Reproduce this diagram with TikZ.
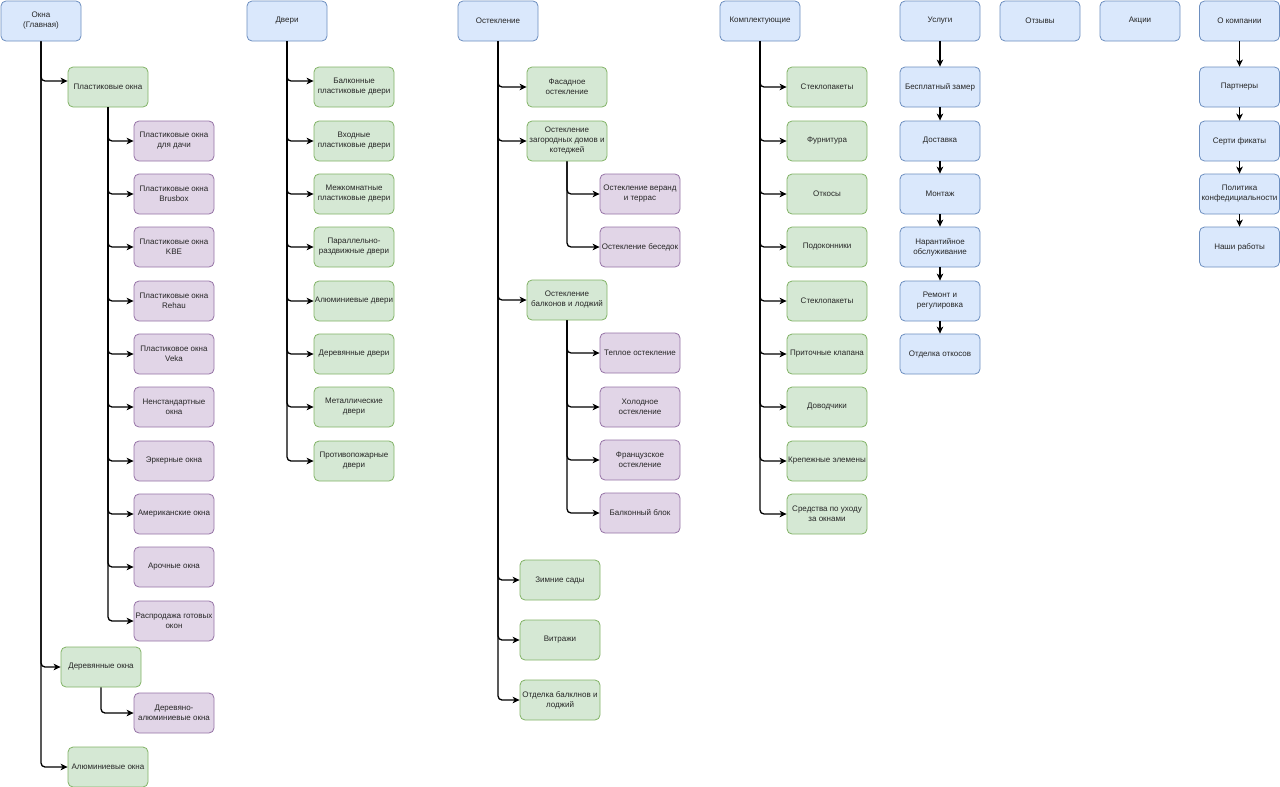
\documentclass[tikz,border=0pt]{standalone}
\usepackage{fontspec}
\setmainfont{Liberation Sans}
\usetikzlibrary{arrows.meta}
\definecolor{bluefill}{HTML}{DAE8FC}
\definecolor{blueline}{HTML}{6C8EBF}
\definecolor{greenfill}{HTML}{D5E8D4}
\definecolor{greenline}{HTML}{82B366}
\definecolor{purplefill}{HTML}{E1D5E7}
\definecolor{purpleline}{HTML}{9673A6}
\begin{document}
\begin{tikzpicture}[x=1pt, y=-1pt,
  item/.style={draw, line width=0.8pt, rounded corners=5pt, minimum width=80pt, minimum height=40pt,
    inner sep=0pt, align=center, text=black!85, font=\fontsize{8}{10}\selectfont},
  blueitem/.style={item, fill=bluefill, draw=blueline},
  greenitem/.style={item, fill=greenfill, draw=greenline},
  purpleitem/.style={item, fill=purplefill, draw=purpleline},
  link/.style={draw=black, line width=1.3pt, rounded corners=4pt, -{Stealth[length=7pt,width=6.5pt,inset=2pt]}}]
\useasboundingbox (0,0) rectangle (1280,787);
\node [blueitem] (okna) at (41,21) {Окна\\(Главная)};
\node [blueitem] (dveri) at (287,21) {Двери};
\node [blueitem] (osteklenie) at (498,21) {Остекление};
\node [blueitem] (komplekt) at (760,21) {Комплектующие};
\node [blueitem] (uslugi) at (940,21) {Услуги};
\node [blueitem] (otzyvy) at (1040,21) {Отзывы};
\node [blueitem] (akcii) at (1140,21) {Акции};
\node [blueitem] (okompanii) at (1239.5,21) {О компании};
% okna
\node [greenitem] (plast) at (108,87) {Пластиковые окна};
\node [purpleitem] (plastdacha) at (174,141) {Пластиковые окна\\для дачи};
\node [purpleitem] (plastbrusbox) at (174,194) {Пластиковые окна\\Brusbox};
\node [purpleitem] (plastkbe) at (174,247) {Пластиковые окна\\KBE};
\node [purpleitem] (plastrehau) at (174,301) {Пластиковые окна\\Rehau};
\node [purpleitem] (plastveka) at (174,354) {Пластиковое окна\\Veka};
\node [purpleitem] (nestand) at (174,407) {Ненстандартные\\окна};
\node [purpleitem] (erker) at (174,461) {Эркерные окна};
\node [purpleitem] (amerik) at (174,514) {Американские окна};
\node [purpleitem] (aroch) at (174,567) {Арочные окна};
\node [purpleitem] (rasprod) at (174,621) {Распродажа готовых\\окон};
\node [greenitem] (derev) at (101,667) {Деревянные окна};
\node [purpleitem] (deralu) at (174,713) {Деревяно-\\алюминиевые окна};
\node [greenitem] (alum) at (108,767) {Алюминиевые окна};
\draw [link] (okna.south) |- ([yshift=6pt]plast.west);
\draw [link] (okna.south) |- (derev.west);
\draw [link] (okna.south) |- (alum.west);
\draw [link] (plast.south) |- (plastdacha.west);
\draw [link] (plast.south) |- (plastbrusbox.west);
\draw [link] (plast.south) |- (plastkbe.west);
\draw [link] (plast.south) |- (plastrehau.west);
\draw [link] (plast.south) |- (plastveka.west);
\draw [link] (plast.south) |- (nestand.west);
\draw [link] (plast.south) |- (erker.west);
\draw [link] (plast.south) |- (amerik.west);
\draw [link] (plast.south) |- (aroch.west);
\draw [link] (plast.south) |- (rasprod.west);
\draw [link] (derev.south) |- (deralu.west);
% dveri
\node [greenitem] (balkdv) at (354,87) {Балконные\\пластиковые двери};
\node [greenitem] (vhoddv) at (354,141) {Входные\\пластиковые двери};
\node [greenitem] (mezhdv) at (354,194) {Межкомнатные\\пластиковые двери};
\node [greenitem] (paraldv) at (354,247) {Параллельно-\\раздвижные двери};
\node [greenitem] (alumdv) at (354,301) {Алюминиевые двери};
\node [greenitem] (derevdv) at (354,354) {Деревянные двери};
\node [greenitem] (metaldv) at (354,407) {Металлические\\двери};
\node [greenitem] (protivdv) at (354,461) {Противопожарные\\двери};
\draw [link] (dveri.south) |- ([yshift=6pt]balkdv.west);
\draw [link] (dveri.south) |- (vhoddv.west);
\draw [link] (dveri.south) |- (mezhdv.west);
\draw [link] (dveri.south) |- (paraldv.west);
\draw [link] (dveri.south) |- (alumdv.west);
\draw [link] (dveri.south) |- (derevdv.west);
\draw [link] (dveri.south) |- (metaldv.west);
\draw [link] (dveri.south) |- (protivdv.west);
% osteklenie
\node [greenitem] (fasad) at (567,87) {Фасадное\\остекление};
\node [greenitem] (zagor) at (567,141) {Остекление\\загородных домов и\\котеджей};
\node [purpleitem] (veranda) at (640,194) {Остекление веранд\\и террас};
\node [purpleitem] (besedka) at (640,247) {Остекление беседок};
\node [greenitem] (balkon) at (567,300) {Остекление\\балконов и лоджий};
\node [purpleitem] (teploe) at (640,353) {Теплое остекление};
\node [purpleitem] (holod) at (640,407) {Холодное\\остекление};
\node [purpleitem] (franc) at (640,460) {Французское\\остекление};
\node [purpleitem] (blok) at (640,513) {Балконный блок};
\node [greenitem] (zimnie) at (560,580) {Зимние сады};
\node [greenitem] (vitrazhi) at (560,640) {Витражи};
\node [greenitem] (otdelka) at (560,700) {Отделка балклнов и\\лоджий};
\draw [link] (osteklenie.south) |- (fasad.west);
\draw [link] (osteklenie.south) |- (zagor.west);
\draw [link] (osteklenie.south) |- (balkon.west);
\draw [link] (osteklenie.south) |- (zimnie.west);
\draw [link] (osteklenie.south) |- (vitrazhi.west);
\draw [link] (osteklenie.south) |- (otdelka.west);
\draw [link] (zagor.south) |- (veranda.west);
\draw [link] (zagor.south) |- (besedka.west);
\draw [link] (balkon.south) |- (teploe.west);
\draw [link] (balkon.south) |- (holod.west);
\draw [link] (balkon.south) |- (franc.west);
\draw [link] (balkon.south) |- (blok.west);
% komplektuyushchie
\node [greenitem] (steklo) at (827,87) {Стеклопакеты};
\node [greenitem] (furnit) at (827,141) {Фурнитура};
\node [greenitem] (otkosy) at (827,194) {Откосы};
\node [greenitem] (podok) at (827,247) {Подоконники};
\node [greenitem] (steklob) at (827,301) {Стеклопакеты};
\node [greenitem] (pritoch) at (827,354) {Приточные клапана};
\node [greenitem] (dovod) at (827,407) {Доводчики};
\node [greenitem] (krep) at (827,461) {Крепежные элемены};
\node [greenitem] (sredstva) at (827,514) {Средства по уходу\\за окнами};
\draw [link] (komplekt.south) |- (steklo.west);
\draw [link] (komplekt.south) |- (furnit.west);
\draw [link] (komplekt.south) |- (otkosy.west);
\draw [link] (komplekt.south) |- (podok.west);
\draw [link] (komplekt.south) |- (steklob.west);
\draw [link] (komplekt.south) |- (pritoch.west);
\draw [link] (komplekt.south) |- (dovod.west);
\draw [link] (komplekt.south) |- (krep.west);
\draw [link] (komplekt.south) |- (sredstva.west);
% uslugi
\node [blueitem] (zamer) at (940,87) {Бесплатный замер};
\node [blueitem] (dostavka) at (940,141) {Доставка};
\node [blueitem] (montazh) at (940,194) {Монтаж};
\node [blueitem] (garant) at (940,247) {Нарантийное\\обслуживание};
\node [blueitem] (remont) at (940,301) {Ремонт и\\регулировка};
\node [blueitem] (otdotkos) at (940,354) {Отделка откосов};
\draw [link] (uslugi) -- (zamer);
\draw [link] (zamer) -- (dostavka);
\draw [link] (dostavka) -- (montazh);
\draw [link] (montazh) -- (garant);
\draw [link] (garant) -- (remont);
\draw [link] (remont) -- (otdotkos);
% o kompanii
\node [blueitem] (partnery) at (1239.5,87) {Партнеры};
\node [blueitem] (sertif) at (1239.5,141) {Серти фикаты};
\node [blueitem] (politika) at (1239.5,194) {Политика\\конфедициальности};
\node [blueitem] (raboty) at (1239.5,247) {Наши работы};
\draw [link] (okompanii) -- (partnery);
\draw [link] (partnery) -- (sertif);
\draw [link] (sertif) -- (politika);
\draw [link] (politika) -- (raboty);
\end{tikzpicture}
\end{document}
